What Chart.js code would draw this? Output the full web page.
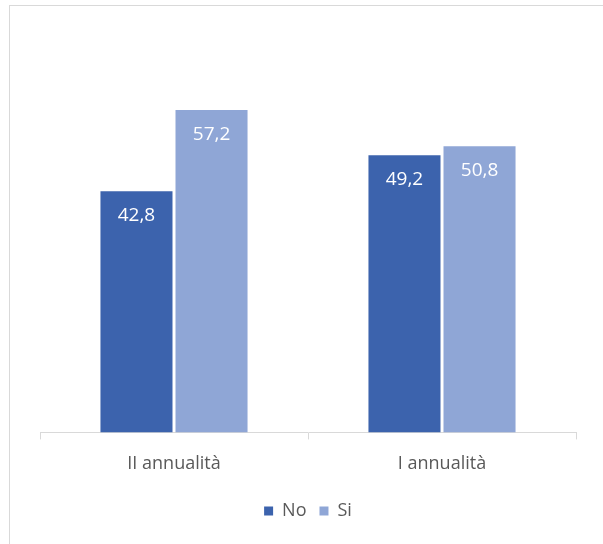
<!DOCTYPE html>
<html>
<head>
<meta charset="utf-8">
<script src="https://cdn.jsdelivr.net/npm/chart.js@4"></script>
<style>
    body { margin: 0; background: #fff; }
    #frame {
        position: absolute; left: 9px; top: 5px;
        width: 620px; height: 560px;
        border: 1px solid #d9d9d9;
    }
    #wrap { position: absolute; left: 0; top: 0; width: 603px; height: 544px; }
</style>
</head>
<body>
<div id="frame"></div>
<div id="wrap"><canvas id="chart"></canvas></div>
<script>
// Categories and series values
const categories = ['II annualità', 'I annualità'];
const noValues = [42.8, 49.2];
const siValues = [57.2, 50.8];

const fontFamily = '"Open Sans", Lato, sans-serif';

// Draw the value inside the top of each bar
const valueLabels = {
    id: 'valueLabels',
    afterDatasetsDraw(chart) {
        const ctx = chart.ctx;
        ctx.save();
        ctx.fillStyle = '#ffffff';
        ctx.font = '19px ' + fontFamily;
        ctx.textAlign = 'center';
        ctx.textBaseline = 'middle';
        chart.data.datasets.forEach((ds, i) => {
            chart.getDatasetMeta(i).data.forEach((bar, j) => {
                const txt = ds.data[j].toFixed(1).replace('.', ',');
                ctx.fillText(txt, bar.x, bar.y + 24);
            });
        });
        ctx.restore();
    },
};

new Chart(document.getElementById('chart'), {
    type: 'bar',
    data: {
        labels: categories,
        datasets: [
            { label: 'No', data: noValues, backgroundColor: '#3c63ad' },
            { label: 'Si', data: siValues, backgroundColor: '#8fa6d6' },
        ],
    },
    options: {
        responsive: true,
        maintainAspectRatio: false,
        animation: false,
        categoryPercentage: 0.56,
        barPercentage: 0.96,
        layout: { padding: { left: 40, right: 27, top: 38, bottom: 14 } },
        scales: {
            y: { display: false, min: 0, max: 70 },
            x: {
                grid: {
                    drawOnChartArea: false,
                    tickLength: 7,
                    color: '#d9d9d9',
                    lineWidth: 1,
                },
                border: { color: '#d9d9d9', width: 1 },
                ticks: {
                    color: '#595959',
                    font: { family: fontFamily, size: 18 },
                    padding: 14,
                },
            },
        },
        plugins: {
            legend: {
                position: 'bottom',
                labels: {
                    boxWidth: 9,
                    boxHeight: 9,
                    color: '#595959',
                    font: { family: fontFamily, size: 18 },
                    padding: 13,
                },
            },
            tooltip: { enabled: false },
        },
    },
    plugins: [valueLabels],
});
</script>
</body>
</html>
